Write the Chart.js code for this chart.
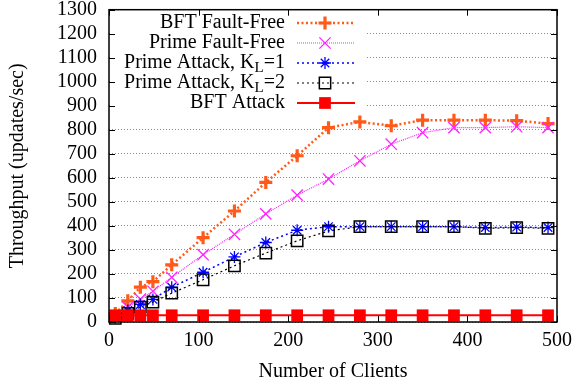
<!DOCTYPE html>
<html>
<head>
<meta charset="utf-8">
<script src="https://cdn.jsdelivr.net/npm/chart.js@4"></script>
<style>
  html, body { margin: 0; padding: 0; background: #fff; }
  #wrap { width: 576px; height: 387px; }
  #probe { position: absolute; left: -999px; font-family: 'Liberation Serif', 'DejaVu Serif', serif; }
</style>
</head>
<body>
<span id="probe">Throughput 0123</span>
<div id="wrap"><canvas id="throughputChart" width="576" height="387"></canvas></div>
<script>
// clientes en el eje x
const clients = [7, 21, 35, 49, 70, 105, 140, 175, 210, 245, 280, 315, 350, 385, 420, 455, 490];

// series (updates/sec)
const bftFaultFree   = [35, 88, 145, 168, 238, 351, 462, 581, 692, 809, 833, 817, 840, 840, 840, 838, 826];
const primeFaultFree = [25, 62, 95, 128, 186, 280, 365, 450, 528, 595, 671, 740, 788, 809, 809, 813, 809];
const primeAttackK1  = [18, 48, 73, 94, 145, 207, 271, 331, 382, 397, 397, 397, 397, 397, 393, 395, 393];
const primeAttackK2  = [15, 36, 62, 83, 120, 176, 234, 287, 338, 379, 397, 397, 397, 397, 390, 393, 390];
const bftAttack      = [28, 28, 28, 28, 28, 28, 28, 28, 28, 28, 28, 28, 28, 28, 28, 28, 28];

const seriesLabels = ['BFT Fault-Free', 'Prime Fault-Free', 'Prime Attack, K_L=1', 'Prime Attack, K_L=2', 'BFT Attack'];
const xTicks = [0, 100, 200, 300, 400, 500];
const yMax = 1300;

const FONT = "'Liberation Serif', 'DejaVu Serif', serif";
const FS = 20;

const toPts = vals => clients.map((c, i) => ({ x: c, y: vals[i] }));

const datasets = [
  { label: seriesLabels[0], data: toPts(bftFaultFree), borderColor: '#ff5a1a', backgroundColor: '#ff5a1a',
    borderWidth: 2.5, borderDash: [2, 2.5], pointStyle: 'cross', pointRadius: 6.5, pointBorderWidth: 3.2, order: 5 },
  { label: seriesLabels[1], data: toPts(primeFaultFree), borderColor: '#ff22ff', backgroundColor: '#ff22ff',
    borderWidth: 1.2, borderDash: [1, 1], pointStyle: 'crossRot', pointRadius: 8, pointBorderWidth: 1.3, order: 4 },
  { label: seriesLabels[2], data: toPts(primeAttackK1), borderColor: '#0000ff', backgroundColor: '#0000ff',
    borderWidth: 1.5, borderDash: [2, 3], pointStyle: 'star', pointRadius: 6, pointBorderWidth: 1.3, order: 3 },
  { label: seriesLabels[3], data: toPts(primeAttackK2), borderColor: '#000000', backgroundColor: 'rgba(0,0,0,0)',
    borderWidth: 1.2, borderDash: [2, 3], pointStyle: 'rect', pointRadius: 8, pointBorderWidth: 1.5, order: 2 },
  { label: seriesLabels[4], data: toPts(bftAttack), borderColor: '#ff0000', backgroundColor: '#ff0000',
    borderWidth: 2, pointStyle: 'rect', pointRadius: 8.3, pointBorderWidth: 0, order: 1 }
];
datasets.forEach(d => { d.clip = false; d.tension = 0; d.pointHoverRadius = d.pointRadius; });

// texto con subindice tipo "K_L"
function drawRichText(ctx, text, xRight, y) {
  const m = text.match(/^(.*)_(\w)(.*)$/);
  const big = FS + 'px ' + FONT, small = (FS - 5) + 'px ' + FONT;
  ctx.textBaseline = 'middle';
  ctx.textAlign = 'left';
  if (!m) {
    ctx.font = big;
    const w = ctx.measureText(text).width;
    ctx.fillText(text, xRight - w, y);
    return;
  }
  ctx.font = big;  const w1 = ctx.measureText(m[1]).width, w3 = ctx.measureText(m[3]).width;
  ctx.font = small; const w2 = ctx.measureText(m[2]).width;
  let x = xRight - (w1 + w2 + w3);
  ctx.font = big;  ctx.fillText(m[1], x, y); x += w1;
  ctx.font = small; ctx.fillText(m[2], x, y + 5); x += w2;
  ctx.font = big;  ctx.fillText(m[3], x, y);
}

const framePlugin = {
  id: 'frame',
  afterDraw(chart) {
    const { ctx, chartArea: a, scales } = chart;
    ctx.save();
    // caja blanca de la leyenda
    ctx.fillStyle = '#fff';
    ctx.fillRect(a.left + 1, a.top + 1, 366 - a.left, 114 - a.top);

    // marco
    ctx.strokeStyle = '#000';
    ctx.lineWidth = 1.5;
    ctx.setLineDash([]);
    ctx.strokeRect(a.left, a.top, a.right - a.left, a.bottom - a.top);

    // ticks hacia adentro
    ctx.lineWidth = 1;
    ctx.beginPath();
    xTicks.forEach(v => {
      const px = Math.round(scales.x.getPixelForValue(v)) + 0.5;
      ctx.moveTo(px, a.bottom); ctx.lineTo(px, a.bottom - 6);
      ctx.moveTo(px, a.top); ctx.lineTo(px, a.top + 6);
    });
    for (let v = 0; v <= yMax; v += 100) {
      const py = Math.round(scales.y.getPixelForValue(v)) + 0.5;
      ctx.moveTo(a.left, py); ctx.lineTo(a.left + 6, py);
      ctx.moveTo(a.right, py); ctx.lineTo(a.right - 6, py);
    }
    ctx.stroke();

    // leyenda
    const rows = [23, 43, 63, 83, 103];
    chart.data.datasets.forEach((ds, i) => {
      const y = rows[i];
      ctx.fillStyle = '#000';
      drawRichText(ctx, ds.label, 285, y);
      ctx.strokeStyle = ds.borderColor;
      ctx.lineWidth = ds.borderWidth;
      ctx.setLineDash(ds.borderDash || []);
      ctx.beginPath();
      ctx.moveTo(297, y); ctx.lineTo(355, y);
      ctx.stroke();
      ctx.setLineDash([]);
      ctx.fillStyle = ds.backgroundColor;
      ctx.lineWidth = ds.pointBorderWidth;
      Chart.helpers.drawPoint(ctx, {
        pointStyle: ds.pointStyle, radius: ds.pointRadius, rotation: 0, borderWidth: ds.pointBorderWidth
      }, 325, y);
    });
    ctx.restore();
  }
};

function build() {
  new Chart(document.getElementById('throughputChart').getContext('2d'), {
    type: 'line',
    data: { datasets },
    plugins: [framePlugin],
    options: {
      responsive: false,
      animation: false,
      events: [],
      layout: { padding: { top: 7, right: 19, left: 0, bottom: 0 } },
      plugins: { legend: { display: false }, tooltip: { enabled: false } },
      scales: {
        x: {
          type: 'linear', min: 0, max: 500,
          afterBuildTicks: s => { s.ticks = xTicks.map(v => ({ value: v })); },
          afterFit: s => { s.height = 65; s.paddingLeft = 0; s.paddingRight = 0; },
          grid: { display: false, drawTicks: false },
          border: { display: false },
          ticks: { color: '#000', font: { family: FONT, size: FS }, padding: 7, maxRotation: 0,
                   autoSkip: false, callback: v => String(v) },
          title: { display: true, text: 'Number of Clients', color: '#000',
                   font: { family: FONT, size: FS }, padding: { top: 0, bottom: 3 } }
        },
        y: {
          type: 'linear', min: 0, max: yMax,
          ticks: { stepSize: 100, color: '#000', font: { family: FONT, size: FS }, padding: 12,
                   autoSkip: false, callback: v => String(v) },
          afterFit: s => { s.width = 109; s.paddingTop = 0; s.paddingBottom = 0; },
          grid: { color: '#8a8a8a', lineWidth: 1, drawTicks: false },
          border: { display: false, dash: [1, 2] },
          title: { display: true, text: 'Throughput (updates/sec)', color: '#000',
                   font: { family: FONT, size: FS }, padding: { top: 6, bottom: 0 } }
        }
      }
    }
  });
}

document.fonts.load(FS + "px 'Liberation Serif'").then(build, build);
</script>
</body>
</html>
